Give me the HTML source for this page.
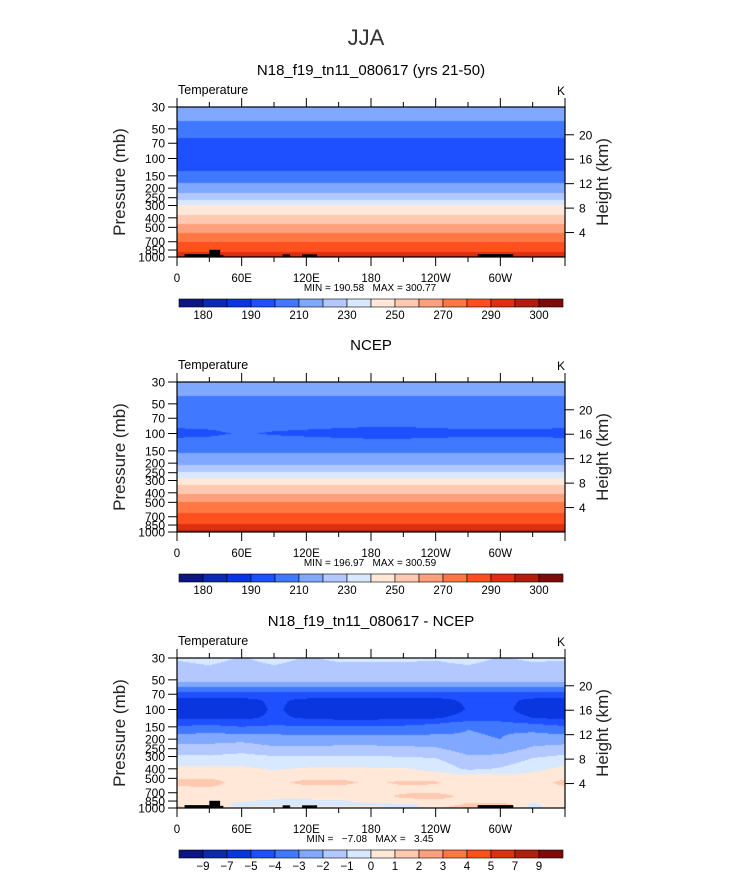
<!DOCTYPE html>
<html><head><meta charset="utf-8"><style>
body{margin:0;background:#fff;}
#wrap{position:relative;width:733px;height:873px;overflow:hidden;font-family:"Liberation Sans",sans-serif;}
canvas{position:absolute;}
svg{position:absolute;left:0;top:0;}
svg text{white-space:pre;}
</style></head><body>
<div id="wrap">
<canvas id="c0" width="388" height="150" style="left:177px;top:107px"></canvas>
<canvas id="c1" width="388" height="150" style="left:177px;top:382px"></canvas>
<canvas id="c2" width="388" height="150" style="left:177px;top:658px"></canvas>
<svg id="svg" width="733" height="873"></svg>
</div>
<script>
const colors=['#0c1682','#0b2ab0','#0a36e0','#1e50ff','#4078ff','#80a8ff','#b2c8ff','#d8e8ff','#ffe8d8','#ffc8b0','#ffa07c','#ff7844','#ff4f1e','#dd3010','#b21e0e','#7f0a0a'];
const absLevels=[180,185,190,200,210,220,230,240,250,260,270,280,290,295,300];
const absLabels=['180','','190','','210','','230','','250','','270','','290','','300'];
const diffLevels=[-9,-7,-5,-4,-3,-2,-1,0,1,2,3,4,5,7,9];
const diffLabels=['−9','−7','−5','−4','−3','−2','−1','0','1','2','3','4','5','7','9'];
const pTicks=[30,50,70,100,150,200,250,300,400,500,700,850,1000];
const zTicks=[4,8,12,16,20];
const lonLabels=['0','60E','120E','180','120W','60W'];
const gridLons=[0,30,60,90,120,150,180,210,240,270,300,330,360];
const profP=[30,40,50,70,100,130,150,200,250,300,400,500,700,850,1000];
const modelT=[217,211,205,197,194,199,205,214,226,241,253,264,280,288,296];
const ncepT=[215,211,206,203,200,203,208,218,231,245,258,271,283,291,297];
const ncep100Anom=[-1.5,-1.0,0.5,-0.5,-1.0,-1.5,-2,-2,-1.5,-1.2,-1.2,-1.2,-1.5];
const diffP=[30,40,52,57,63,70,80,100,122,135,160,200,255,310,400,470,550,650,760,850,925,1000];
const diffGrid=[
[-0.9,-0.6,-1.1,-0.6,-1.1,-0.8,-0.8,-0.8,-0.9,-0.6,-1.1,-0.8,-0.9],
[-1.4,-1.3,-1.5,-1.3,-1.5,-1.4,-1.4,-1.4,-1.4,-1.3,-1.5,-1.4,-1.4],
[-2.0,-2.0,-2.0,-2.0,-2.0,-2.0,-2.0,-2.0,-2.0,-2.0,-2.0,-2.0,-2.0],
[-2.6,-2.6,-2.6,-2.6,-2.6,-2.6,-2.6,-2.6,-2.6,-2.6,-2.6,-2.6,-2.6],
[-3.5,-3.5,-3.5,-3.5,-3.5,-3.5,-3.5,-3.5,-3.5,-3.5,-3.5,-3.5,-3.5],
[-4.4,-4.4,-4.4,-4.4,-4.4,-4.4,-4.4,-4.4,-4.4,-4.4,-4.4,-4.4,-4.4],
[-5.3,-5.3,-5.3,-4.8,-5.2,-5.4,-5.4,-5.4,-5.3,-4.8,-4.7,-5.2,-5.3],
[-6.0,-6.0,-5.8,-4.8,-5.5,-6.2,-6.8,-6.4,-6.0,-4.9,-4.6,-5.6,-6.0],
[-5.2,-5.2,-5.2,-4.8,-5.1,-5.3,-5.3,-5.2,-5.1,-4.5,-4.4,-5.0,-5.2],
[-4.5,-4.4,-4.6,-4.4,-4.5,-4.5,-4.5,-4.4,-4.2,-3.8,-3.9,-4.2,-4.5],
[-3.5,-3.3,-3.6,-3.4,-3.5,-3.5,-3.5,-3.5,-3.3,-3.0,-3.1,-3.2,-3.5],
[-2.5,-2.4,-2.3,-2.6,-2.6,-2.6,-2.6,-2.6,-2.7,-2.9,-3.0,-2.5,-2.5],
[-1.5,-1.5,-1.3,-1.7,-1.7,-1.6,-1.6,-1.7,-1.8,-2.4,-2.4,-1.8,-1.5],
[-0.7,-0.8,-0.6,-0.8,-0.8,-0.8,-0.8,-0.9,-1.0,-1.8,-1.7,-1.0,-0.7],
[0.3,0.3,0.2,-0.1,0.1,0.2,0.1,0.1,-0.3,-1.2,-0.9,-0.3,0.3],
[0.6,0.7,0.5,0.4,0.5,0.6,0.5,0.5,0.4,0.3,0.2,0.3,0.6],
[1.3,1.4,0.6,0.7,1.3,1.3,0.8,1.2,1.1,0.5,0.5,0.5,1.3],
[0.7,0.8,0.6,0.5,0.5,0.6,0.6,0.7,0.7,0.5,0.5,0.5,0.7],
[0.5,0.5,0.4,0.4,0.4,0.5,0.6,1.2,1.3,0.8,0.4,0.3,0.5],
[0.6,0.4,0.1,-0.2,-0.2,-0.2,0.3,0.7,0.8,0.8,0.3,0.2,0.6],
[0.9,0.5,-0.4,-0.4,-0.3,-0.2,-0.2,-0.3,0.3,1.2,1.8,-0.3,0.9],
[1.2,0.8,0.3,0.4,0.4,0.5,0.4,-0.2,0.4,2.5,2.2,-0.5,1.0]];
const topoLon0=[7,30,40,98,116,279];
const topoLon1=[30,40,43,105,130,312];
const topoP=[935,845,950,940,940,935];

const X0=177,W=388,H=150,LN=Math.log(1000/30);
const panelTop=[107,382,658];
const xs=lon=>X0+W*lon/360;
const ys=(p,t)=>t+H*Math.log(p/30)/LN;
function interp1(arr,v){let i=0;while(i<arr.length-2&&v>arr[i+1])i++;return [i,(v-arr[i])/(arr[i+1]-arr[i])];}
function band(lv,v){let k=0;while(k<lv.length&&v>=lv[k])k++;return k;}
function hex(c){return [parseInt(c.substr(1,2),16),parseInt(c.substr(3,2),16),parseInt(c.substr(5,2),16)];}
const rgb=colors.map(hex);
function fill(id,fn,lv){const cv=document.getElementById(id),ctx=cv.getContext('2d');const img=ctx.createImageData(W,H);
for(let y=0;y<H;y++){const p=30*Math.exp((y+0.5)/H*LN);for(let x=0;x<W;x++){const lon=(x+0.5)/W*360;const c=rgb[band(lv,fn(p,lon))];const o=(y*W+x)*4;img.data[o]=c[0];img.data[o+1]=c[1];img.data[o+2]=c[2];img.data[o+3]=255;}}
ctx.putImageData(img,0,0);}
const lnProf=profP.map(p=>Math.log(p));
function prof(T,p){const [i,f]=interp1(lnProf,Math.log(p));return T[i]+(T[i+1]-T[i])*f;}
function lonI(arr,lon){const [j,g]=interp1(gridLons,lon);return arr[j]+(arr[j+1]-arr[j])*g;}
fill('c0',(p,lon)=>prof(modelT,p),absLevels);
fill('c1',(p,lon)=>{const a=lonI(ncep100Anom,lon);const w=Math.max(0,1-Math.abs(Math.log(p/100))/Math.log(1.5));return prof(ncepT,p)+a*w;},absLevels);
const lnDiff=diffP.map(p=>Math.log(p));
fill('c2',(p,lon)=>{const [i,f]=interp1(lnDiff,Math.log(p));const a=lonI(diffGrid[i],lon),b=lonI(diffGrid[i+1],lon);return a+(b-a)*f;},diffLevels);

const svg=document.getElementById('svg');const NS='http://www.w3.org/2000/svg';
function el(tag,at,txt){const e=document.createElementNS(NS,tag);for(const k in at)e.setAttribute(k,at[k]);if(txt!==undefined)e.textContent=txt;svg.appendChild(e);return e;}
let t=el('text',{x:366,y:45,'font-size':22,'text-anchor':'middle',fill:'#333','font-weight':'300'},'JJA');


const subs=['N18_f19_tn11_080617 (yrs 21-50)','NCEP','N18_f19_tn11_080617 - NCEP'];
const mm=[['190.58','300.77'],['196.97','300.59'],['  −7.08','  3.45']];
for(let k=0;k<3;k++){const T0=panelTop[k];
 t=el('text',{x:371,y:T0-32,'font-size':15,'text-anchor':'middle',fill:'#000'},subs[k]);
 
 
 t=el('text',{x:178,y:T0-13,'font-size':12.5,fill:'#000'},'Temperature');
 
 
 t=el('text',{x:557,y:T0-12,'font-size':12,fill:'#000'},'K');
 
 
 if(k!==1){for(let m=0;m<topoLon0.length;m++){const r=el('rect',{x:xs(topoLon0[m]),y:ys(topoP[m],T0),width:xs(topoLon1[m])-xs(topoLon0[m]),height:T0+H-ys(topoP[m],T0),fill:'#000'});
  
  }}
 const fr=el('rect',{x:X0,y:T0,width:W,height:H,fill:'none',stroke:'#000','stroke-width':1.2});
 
 
 for(let lon=0;lon<=360;lon+=30){const len=lon%60===0?9:5;
  el('line',{x1:xs(lon),x2:xs(lon),y1:T0,y2:T0-len,stroke:'#000'});
  el('line',{x1:xs(lon),x2:xs(lon),y1:T0+H,y2:T0+H+len,stroke:'#000'});}
 lonLabels.forEach((s,i)=>{t=el('text',{x:xs(i*60),y:T0+H+25,'font-size':11.5,'text-anchor':'middle'},s);
  
  });
 pTicks.forEach(p=>{const y=ys(p,T0);el('line',{x1:X0-9,x2:X0,y1:y,y2:y,stroke:'#000'});
  t=el('text',{x:X0-12,y:y+4.5,'font-size':12,'text-anchor':'end'},String(p));
  
  });
 zTicks.forEach(z=>{const y=ys(1000*Math.exp(-z/7),T0);el('line',{x1:X0+W,x2:X0+W+9,y1:y,y2:y,stroke:'#000'});
  t=el('text',{x:X0+W+14,y:y+4.5,'font-size':12},String(z));
  
  });
 t=el('text',{x:0,y:0,'font-size':17,'text-anchor':'middle',transform:`translate(125,${T0+75}) rotate(-90)`,fill:'#222'},'Pressure (mb)');
 
 
 t=el('text',{x:0,y:0,'font-size':17,'text-anchor':'middle',transform:`translate(608,${T0+75}) rotate(-90)`,fill:'#222'},'Height (km)');
 
 
 t=el('text',{x:370,y:T0+H+34,'font-size':10,'text-anchor':'middle'},`MIN = ${mm[k][0]}   MAX = ${mm[k][1]}`);
 
 
 const cy=T0+192,bw=24,labs=k===2?diffLabels:absLabels;
 colors.forEach((c,i)=>{const r=el('rect',{x:179+i*bw,y:cy,width:bw,height:8,fill:c,stroke:'#000','stroke-width':0.6});
  
  });
 labs.forEach((s,i)=>{if(!s)return;t=el('text',{x:179+(i+1)*bw,y:cy+20,'font-size':11.5,'text-anchor':'middle'},s);
  
  });
}
</script>
</body></html>
